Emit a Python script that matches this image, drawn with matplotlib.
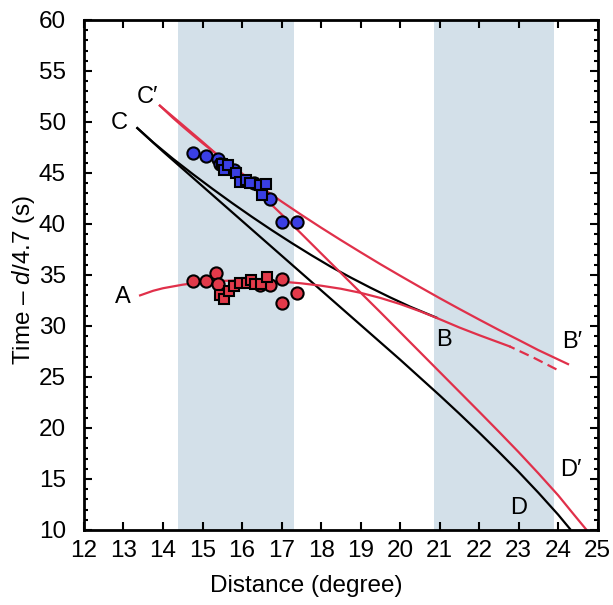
import numpy as np
import matplotlib
matplotlib.use('Agg')
import matplotlib.pyplot as plt
from matplotlib.ticker import MultipleLocator

plt.rcParams['font.family'] = ['Liberation Sans', 'DejaVu Sans']
plt.rcParams['mathtext.fontset'] = 'custom'
plt.rcParams['mathtext.it'] = 'Liberation Sans:italic'
plt.rcParams['mathtext.rm'] = 'Liberation Sans'

# 观测点（蓝：上支，红：下支）
blue_circ_x = [14.75, 15.1, 15.4, 15.45, 15.8, 16.3, 16.7, 17.0, 17.4]
blue_circ_y = [47.0, 46.7, 46.4, 45.9, 45.3, 44.0, 42.4, 40.2, 40.2]
blue_sq_x = [15.5, 15.55, 15.65, 15.85, 15.95, 16.1, 16.2, 16.45, 16.6, 16.5]
blue_sq_y = [45.9, 45.3, 45.8, 45.0, 44.1, 44.3, 44.0, 43.8, 43.9, 42.8]

red_circ_x = [14.75, 15.1, 15.35, 15.4, 16.45, 16.7, 17.0, 17.0, 17.4]
red_circ_y = [34.4, 34.4, 35.2, 34.1, 34.0, 34.0, 34.6, 32.3, 33.2]
red_sq_x = [15.44, 15.54, 15.67, 15.8, 15.95, 16.12, 16.22, 16.33, 16.48, 16.63]
red_sq_y = [33.0, 32.6, 33.4, 33.9, 34.2, 34.2, 34.5, 34.1, 34.1, 34.8]

# 理论走时曲线
cb_x = [13.35, 13.75, 14.25, 14.75, 15.25, 15.75, 16.25, 16.75, 17.25, 17.75, 18.25,
        18.75, 19.25, 19.75, 20.25, 20.93]
cb_y = [49.4, 48.0, 46.4, 44.9, 43.45, 42.05, 40.7, 39.4, 38.15, 36.95, 35.8,
        34.75, 33.75, 32.8, 31.9, 30.8]
cd_x = [13.35, 14.0, 15.0, 16.0, 17.0, 18.0, 19.0, 20.0, 21.0, 21.5, 22.0, 22.5,
        23.0, 23.5, 24.0, 24.3]
cd_y = [49.4, 47.1, 43.7, 40.3, 36.9, 33.5, 30.1, 26.7, 23.2, 21.4, 19.55, 17.65,
        15.7, 13.65, 11.5, 10.1]

cpbp_x = [13.92, 14.25, 14.5, 14.75, 15.0, 15.5, 16.0, 16.5, 17.0, 17.5, 18.0, 18.5,
          19.0, 19.5, 20.0, 20.5, 21.0, 21.5, 22.0, 22.5, 23.0, 23.5, 24.25]
cpbp_y = [51.6, 50.4, 49.55, 48.73, 47.93, 46.4, 44.95, 43.55, 42.2, 40.9, 39.64, 38.42,
          37.23, 36.06, 34.93, 33.82, 32.73, 31.67, 30.63, 29.61, 28.63, 27.63, 26.26]
cpdp_x = [13.92, 14.5, 15.0, 15.5, 16.0, 16.5, 17.0, 17.5, 18.0, 18.5, 19.0, 19.5,
          20.0, 20.5, 21.0, 21.5, 22.0, 22.5, 23.0, 23.5, 24.0, 24.4, 24.72]
cpdp_y = [51.6, 49.7, 48.05, 46.35, 44.6, 42.8, 40.95, 39.05, 37.12, 35.2, 33.27, 31.35,
          29.4, 27.45, 25.5, 23.55, 21.6, 19.63, 17.63, 15.55, 13.4, 11.5, 10.0]

a_x = [13.42, 13.75, 14.0, 14.5, 15.0, 15.5, 16.0, 16.5, 17.0, 17.5, 18.0, 18.5,
       19.0, 19.5, 20.0, 20.5, 20.92, 21.5, 22.0, 22.77]
a_y = [33.0, 33.45, 33.7, 34.05, 34.3, 34.42, 34.48, 34.45, 34.35, 34.18, 33.95, 33.65,
       33.25, 32.75, 32.15, 31.45, 30.8, 29.85, 29.1, 28.0]
a_dash_x = [22.77, 23.4, 24.08]
a_dash_y = [28.0, 26.85, 25.5]

shade_spans = [(14.38, 17.32), (20.85, 23.9)]

curve_labels = [('A', 12.99, 32.8), ('B', 21.1, 28.6), ('B\u2032', 24.35, 28.4),
                ('C', 12.9, 49.9), ('C\u2032', 13.6, 52.4), ('D', 23.0, 12.2),
                ('D\u2032', 24.32, 15.9)]

red = '#e0304a'
fig = plt.figure(figsize=(6.13, 6.05), dpi=100)
ax = fig.add_axes([0.137, 0.124, 0.838, 0.843])

for x0, x1 in shade_spans:
    ax.axvspan(x0, x1, color='#d3e0e9', lw=0, zorder=0)

ax.plot(cb_x, cb_y, color='black', lw=1.6, zorder=2)
ax.plot(cd_x, cd_y, color='black', lw=1.6, zorder=2)
ax.plot(cpbp_x, cpbp_y, color=red, lw=1.6, zorder=2)
ax.plot(cpdp_x, cpdp_y, color=red, lw=1.6, zorder=2)
ax.plot(a_x, a_y, color=red, lw=1.6, zorder=2)
ax.plot(a_dash_x, a_dash_y, color=red, lw=1.6, ls=(2, (4.5, 2.5)), zorder=2)

kw = dict(ls='none', mec='black', mew=1.5, ms=8.8, zorder=3)
ax.plot(red_circ_x, red_circ_y, 'o', mfc='#e23a4a', **kw)
ax.plot(red_sq_x, red_sq_y, 's', mfc='#e23a4a', **dict(kw, ms=7.5))
ax.plot(blue_circ_x, blue_circ_y, 'o', mfc='#3a3fe4', **kw)
ax.plot(blue_sq_x, blue_sq_y, 's', mfc='#3a3fe4', **dict(kw, ms=7.5))

for txt, x, y in curve_labels:
    ax.text(x, y, txt, fontsize=17, ha='center', va='center', zorder=4)

ax.set_xlim(12, 25)
ax.set_ylim(10, 60)
ax.xaxis.set_major_locator(MultipleLocator(1))
ax.yaxis.set_major_locator(MultipleLocator(5))
ax.yaxis.set_minor_locator(MultipleLocator(1))
ax.tick_params(which='both', direction='in', top=True, right=True, labelsize=17.5, width=1.5)
ax.tick_params(which='major', length=6)
ax.tick_params(which='minor', length=3)
ax.tick_params(axis='y', pad=13)
ax.tick_params(axis='x', pad=7)
for s in ax.spines.values():
    s.set_linewidth(2)

ax.set_xlabel('Distance (degree)', fontsize=17.5)
ax.xaxis.set_label_coords(0.432, -0.088)
ax.set_ylabel('Time \u2013 $d$/4.7 (s)', fontsize=17.5)
ax.yaxis.set_label_coords(-0.092, 0.49)

fig.savefig('out.png', dpi=100)
